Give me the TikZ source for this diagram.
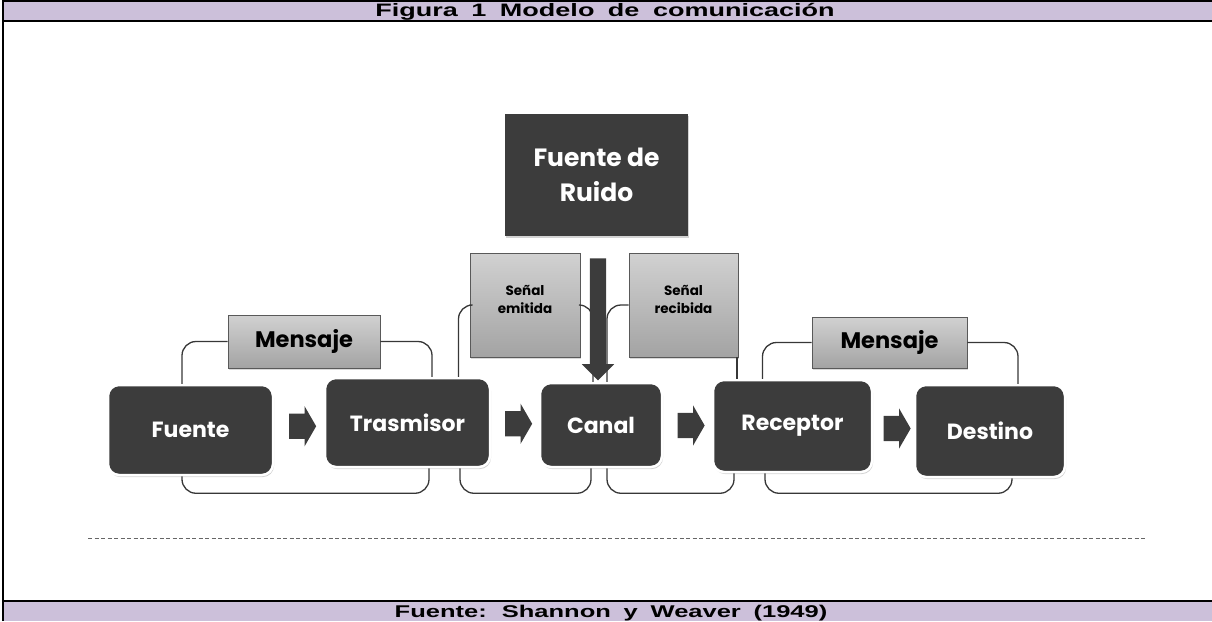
\documentclass[tikz,border=0pt]{standalone}
\usepackage{fontspec}
\setsansfont{Poppins}
\newfontfamily\bandfont[FakeStretch=1.5,WordSpace=1.8]{Liberation Sans}
\usetikzlibrary{positioning,shapes.arrows,shadows,calc}
\definecolor{banda}{RGB}{204,192,218}
\definecolor{oscuro}{RGB}{60,60,60}
\definecolor{linea}{RGB}{55,55,55}

\begin{document}
\begin{tikzpicture}[x=1pt,y=-1pt,
  caja/.style={rectangle,rounded corners=11pt,fill=oscuro,draw=white,line width=2.5pt,
    drop shadow={shadow xshift=1pt,shadow yshift=-2pt,opacity=0.35},
    text=white,font=\sffamily\bfseries\fontsize{22}{26}\selectfont},
  etiqueta/.style={rectangle,draw=black!65,line width=0.9pt,top color=black!18,bottom color=black!36,
    drop shadow={shadow xshift=1pt,shadow yshift=-1.5pt,opacity=0.3},
    text=black,align=center},
  flecha/.style={single arrow,fill=oscuro,draw=none,inner xsep=0pt,inner ysep=12.5pt,
    minimum height=27pt,single arrow head extend=7.5pt,single arrow tip angle=120},
  brazo/.style={draw=linea,line width=1.3pt,rounded corners=14pt}]

\useasboundingbox (0,0) rectangle (1212,621);

% marco y bandas
\fill[banda] (3,2) rectangle (1212,20);
\fill[banda] (3,601) rectangle (1212,621);
\draw[line width=2pt] (2.5,621) -- (2.5,1) -- (1212,1);
\draw[line width=2pt] (2.5,20.5) -- (1212,20.5);
\draw[line width=2pt] (2.5,600.5) -- (1212,600.5);
\node[font=\bandfont\bfseries\fontsize{18}{19}\selectfont,anchor=base] (titulo) at (605,16.5) {Figura 1 Modelo de comunicación};
\node[font=\bandfont\bfseries\fontsize{17}{19}\selectfont,anchor=base] (fuentecita) at (611,617) {Fuente: Shannon y Weaver (1949)};

% cajas principales
\node[caja,minimum width=165pt,minimum height=90pt] (fuente) at (190.5,430) {Fuente};
\node[caja,minimum width=165pt,minimum height=89pt] (trasmisor) at (407.5,422.5) {Trasmisor};
\node[caja,minimum width=122pt,minimum height=84pt] (canal) at (601,425) {Canal};
\node[caja,minimum width=159pt,minimum height=92pt] (receptor) at (792.5,426) {Receptor};
\node[caja,minimum width=150pt,minimum height=92pt] (destino) at (990,431) {Destino};
\node[caja,rounded corners=0pt,draw=none,minimum width=183pt,minimum height=122pt,align=center,
  font=\sffamily\bfseries\fontsize{25}{35}\selectfont] (ruido) at (596.5,175) {Fuente de\\Ruido};

% etiquetas
\node[etiqueta,minimum width=152pt,minimum height=53pt,font=\sffamily\bfseries\fontsize{22.5}{26}\selectfont] (mensaje1) at (304,341.5) {Mensaje};
\node[etiqueta,minimum width=155pt,minimum height=51pt,font=\sffamily\bfseries\fontsize{22.5}{26}\selectfont] (mensaje2) at (889.5,342.5) {Mensaje};
\node[etiqueta,minimum width=110pt,minimum height=104pt,font=\sffamily\bfseries\fontsize{13.5}{18}\selectfont] (emitida) at (525,305) {Señal\\emitida\\[-7pt]};
\node[etiqueta,minimum width=109pt,minimum height=104pt,font=\sffamily\bfseries\fontsize{13.5}{18}\selectfont] (recibida) at (683.5,305) {Señal\\recibida\\[-7pt]};

% flechas de bloque
\node[flecha] (f1) at ($(fuente.east)!0.5!(trasmisor.west)$) {};
\node[flecha] (f2) at ($(trasmisor.east)!0.5!(canal.west)$) {};
\node[flecha] (f3) at ($(canal.east)!0.5!(receptor.west)$) {};
\node[flecha] (f4) at ($(receptor.east)!0.5!(destino.west)$) {};

% brazos
\draw[brazo] ([xshift=-8.5pt]fuente.north) |- (mensaje1.west);
\draw[brazo] (mensaje1.east) -| ([xshift=24.5pt]trasmisor.north);
\draw[brazo] ([xshift=51pt]trasmisor.north) |- (emitida.west);
\draw[brazo] (emitida.east) -| ([xshift=-8pt]canal.north);
\draw[brazo] ([xshift=6pt]canal.north) |- (recibida.west);
\draw[brazo] ([xshift=-1.5pt]recibida.south east) -- ([xshift=-1.5pt]recibida.south east |- receptor.north);
\draw[brazo] ([xshift=-30pt]receptor.north) |- (mensaje2.west);
\draw[brazo] (mensaje2.east) -| ([xshift=28pt]destino.north);

\draw[brazo] ([xshift=-8.5pt]fuente.south) -- ++(0,17) -| ([xshift=21.5pt]trasmisor.south);
\draw[brazo] ([xshift=52.5pt]trasmisor.south) -- ++(0,25) -| ([xshift=-10pt]canal.south);
\draw[brazo] ([xshift=6pt]canal.south) -- ++(0,25) -| ([xshift=-58.5pt]receptor.south);
\draw[brazo] ([xshift=-27.5pt]receptor.south) -- ++(0,20) -| ([xshift=22pt]destino.south);

% ruido
\node[flecha,rotate=-90,minimum height=122pt,inner ysep=8pt,single arrow head extend=8pt,
  single arrow tip angle=90] (fruido) at ([xshift=1.5pt,yshift=-78pt]ruido.south) {};

% linea punteada
\draw[black!60,line width=0.9pt,dash pattern=on 4pt off 2.5pt] (88,538) -- (1145,538);

\end{tikzpicture}
\end{document}
